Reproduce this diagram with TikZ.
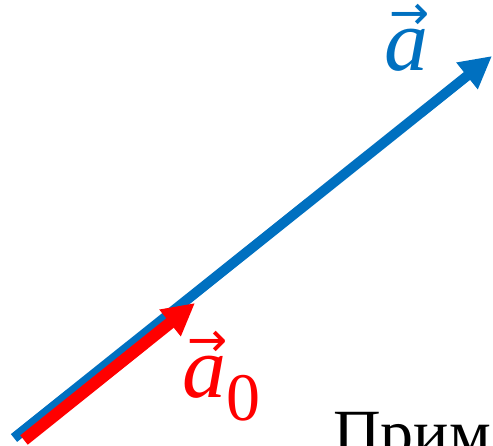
\documentclass[tikz,border=0pt]{standalone}
\usepackage{fontspec}
\setmainfont{Liberation Serif}
\newfontfamily\arrowfont{DejaVu Sans}
\usetikzlibrary{arrows.meta}
\definecolor{vecblue}{RGB}{0,112,192}
\newcommand{\veca}{\makebox[0pt][l]{\hspace{5pt}\raisebox{41pt}{\fontsize{48}{48}\arrowfont →}}\textit{a}}
\begin{document}
\begin{tikzpicture}[line cap=butt,line join=miter,x=1pt,y=-1pt,>={Triangle[length=32pt,width=32pt]}]
	\useasboundingbox (0,0) rectangle (493,445);
	\clip (0,0) rectangle (493,445);
	\coordinate (a1) at (14,438);
	\coordinate (a2) at (492,56);
	\coordinate (e1) at (24,440);
	\coordinate (e2) at (195,303);
	\draw[->,color=vecblue,line width=10pt] (a1) -- (a2);
	\draw[->,color=red,line width=12pt] (e1) -- (e2);
	\node[anchor=base west,inner sep=0pt,text=vecblue] (la) at (384,70) {\fontsize{88}{90}\selectfont \veca};
	\node[anchor=base west,inner sep=0pt,text=red] (lb) at (182,397) {\fontsize{88}{90}\selectfont \veca\raisebox{-23pt}{\fontsize{68}{70}\selectfont 0}};
	\node[anchor=base west,inner sep=0pt] (txt) at (333,455) {\fontsize{66}{70}\selectfont Прим};
\end{tikzpicture}
\end{document}
